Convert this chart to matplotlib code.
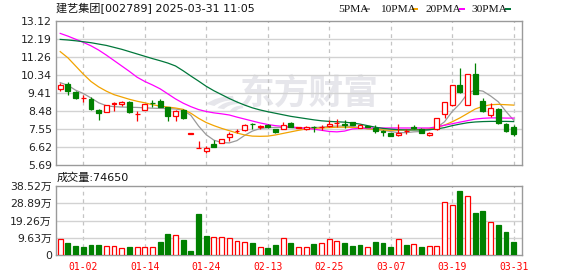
import numpy as np
import matplotlib
matplotlib.use("Agg")
import matplotlib.pyplot as plt
from matplotlib.patches import Rectangle, Wedge

# ---------------- data ----------------
dates = ["01-02", "01-14", "01-24", "02-13", "02-25", "03-07", "03-19", "03-31"]
date_idx = [3, 11, 19, 27, 35, 43, 51, 59]

opens = [9.63, 9.87, 9.46, 9.14, 9.11, 8.55, 8.41, 8.85, 8.82, 8.92,
         8.30, 8.53, 8.90, 8.97, 8.66, 8.20, 8.53, 7.31, 6.58, 6.43,
         6.78, 6.83, 7.13, 7.42, 7.52, 7.80, 7.66, 7.77, 7.56, 7.56,
         7.87, 7.62, 7.56, 7.66, 7.64, 7.68, 7.85, 7.79, 7.91, 7.60,
         7.68, 7.60, 7.42, 7.34, 7.22, 7.42, 7.63, 7.53, 7.25, 7.53,
         8.30, 8.77, 9.80, 8.80, 10.39, 8.99, 8.29, 8.56, 7.80, 7.63]
closes = [9.80, 9.49, 9.15, 9.16, 8.60, 8.36, 8.77, 8.87, 8.96, 8.41,
          8.32, 8.84, 8.87, 8.70, 8.20, 8.49, 8.12, 7.31, 6.59, 6.57,
          6.64, 7.01, 7.30, 7.45, 7.76, 7.78, 7.68, 7.63, 7.39, 7.74,
          7.67, 7.64, 7.67, 7.63, 7.66, 7.82, 7.88, 7.76, 7.77, 7.73,
          7.66, 7.43, 7.39, 7.19, 7.36, 7.44, 7.58, 7.36, 7.36, 8.11,
          8.93, 9.80, 9.46, 10.39, 9.37, 8.49, 8.61, 7.84, 7.42, 7.29]
highs = [9.92, 9.97, 9.53, 9.28, 9.18, 8.60, 8.77, 8.94, 9.01, 8.98,
         8.46, 8.84, 9.04, 9.11, 8.69, 8.54, 8.56, 7.31, 6.92, 6.65,
         7.00, 7.03, 7.41, 7.53, 7.80, 7.84, 7.77, 7.78, 7.57, 7.91,
         7.89, 7.67, 7.68, 7.70, 7.74, 7.99, 8.08, 8.01, 7.93, 7.79,
         7.72, 7.75, 7.48, 7.35, 7.80, 7.53, 7.74, 7.60, 7.39, 8.13,
         8.94, 9.82, 10.70, 10.40, 10.96, 9.17, 8.87, 8.61, 7.84, 7.77]
lows = [9.49, 9.32, 9.10, 8.94, 8.55, 8.03, 8.41, 8.49, 8.72, 8.37,
        7.98, 8.53, 8.70, 8.70, 7.98, 7.98, 8.08, 7.31, 6.58, 6.31,
        6.63, 6.80, 6.91, 7.32, 7.44, 7.53, 7.53, 7.62, 7.36, 7.55,
        7.66, 7.58, 7.48, 7.39, 7.50, 7.65, 7.67, 7.60, 7.76, 7.58,
        7.63, 7.36, 7.17, 7.17, 7.19, 7.29, 7.53, 7.32, 7.19, 7.49,
        8.11, 8.75, 9.43, 8.78, 9.33, 8.45, 8.18, 7.80, 7.39, 7.20]

ma5 = [9.94, 9.80, 9.55, 9.38, 9.15, 8.90, 8.75, 8.70, 8.68, 8.67,
       8.66, 8.64, 8.62, 8.61, 8.60, 8.58, 8.52, 8.25, 7.70, 7.25,
       6.97, 6.85, 6.83, 6.95, 7.22, 7.44, 7.57, 7.62, 7.63, 7.63,
       7.62, 7.58, 7.60, 7.62, 7.64, 7.68, 7.70, 7.70, 7.68, 7.62,
       7.56, 7.52, 7.48, 7.42, 7.36, 7.36, 7.40, 7.42, 7.50, 7.62,
       7.92, 8.45, 8.85, 9.38, 9.56, 9.50, 9.25, 8.95, 8.45, 8.00]
ma10 = [11.54, 11.22, 10.80, 10.38, 10.00, 9.72, 9.50, 9.32, 9.20, 9.08,
        8.98, 8.90, 8.80, 8.73, 8.68, 8.63, 8.56, 8.36, 8.10, 7.88,
        7.72, 7.58, 7.46, 7.34, 7.24, 7.18, 7.17, 7.18, 7.24, 7.32,
        7.40, 7.48, 7.55, 7.58, 7.60, 7.62, 7.64, 7.64, 7.63, 7.60,
        7.56, 7.53, 7.50, 7.48, 7.49, 7.50, 7.51, 7.52, 7.56, 7.63,
        7.75, 7.92, 8.12, 8.35, 8.58, 8.72, 8.80, 8.82, 8.80, 8.78]
ma20 = [12.48, 12.34, 12.18, 12.02, 11.84, 11.62, 11.36, 11.08, 10.80, 10.52,
        10.22, 10.00, 9.82, 9.62, 9.36, 9.10, 8.88, 8.70, 8.55, 8.45,
        8.38, 8.33, 8.27, 8.16, 8.06, 7.96, 7.86, 7.78, 7.72, 7.68,
        7.65, 7.62, 7.58, 7.54, 7.48, 7.42, 7.40, 7.44, 7.55, 7.58,
        7.60, 7.60, 7.60, 7.60, 7.60, 7.60, 7.60, 7.60, 7.60, 7.66,
        7.74, 7.82, 7.90, 7.98, 8.06, 8.10, 8.12, 8.12, 8.11, 8.11]
ma30 = [12.17, 12.14, 12.10, 12.05, 12.00, 11.93, 11.86, 11.76, 11.66, 11.54,
        11.42, 11.30, 11.18, 11.07, 10.95, 10.80, 10.55, 10.28, 10.02, 9.75,
        9.52, 9.32, 9.12, 8.94, 8.78, 8.64, 8.53, 8.44, 8.36, 8.28,
        8.20, 8.14, 8.08, 8.02, 7.97, 7.94, 7.92, 7.90, 7.86, 7.80,
        7.72, 7.64, 7.58, 7.54, 7.51, 7.50, 7.50, 7.50, 7.51, 7.55,
        7.62, 7.72, 7.80, 7.87, 7.91, 7.93, 7.94, 7.94, 7.94, 7.93]

volume = [9.07, 6.85, 5.19, 4.63, 5.74, 5.74, 5.19, 5.19, 4.07, 4.63,
          4.63, 4.63, 4.63, 7.41, 11.85, 11.11, 8.70, 2.30, 22.96, 10.74,
          10.00, 10.00, 9.44, 7.78, 7.22, 6.85, 4.44, 4.07, 5.74, 9.44,
          6.85, 4.44, 4.44, 6.30, 6.67, 8.89, 7.78, 6.85, 5.19, 5.74,
          4.44, 7.41, 6.85, 4.63, 8.89, 5.74, 6.11, 4.63, 5.00, 5.00,
          29.6, 27.8, 35.7, 32.8, 23.7, 24.8, 18.5, 16.9, 13.0, 7.465]
vol_up = [1, 0, 0, 0, 0, 0, 1, 1, 1, 0,
          1, 1, 1, 0, 0, 1, 0, 0, 0, 0,
          1, 1, 1, 1, 1, 0, 1, 0, 0, 1,
          0, 1, 1, 0, 1, 1, 1, 0, 0, 0,
          1, 0, 0, 0, 1, 0, 1, 0, 1, 1,
          1, 1, 0, 1, 0, 0, 1, 0, 0, 0]

price_ticks = [5.69, 6.62, 7.55, 8.48, 9.41, 10.34, 11.26, 12.19, 13.12]
price_labels = ["5.69", "6.62", "7.55", "8.48", "9.41", "10.34", "11.26", "12.19", "13.12"]
vol_ticks = [0, 9.63, 19.26, 28.89, 38.52]
vol_labels = ["0", "9.63万", "19.26万", "28.89万", "38.52万"]

title = "建艺集团[002789] 2025-03-31 11:05"
vol_title = "成交量:74650"
legend_names = ["5PMA", "10PMA", "20PMA", "30PMA"]

# ---------------- style ----------------
RED = "#ff0000"
GREEN = "#008000"
MA_COLORS = ["#9a9a9a", "#f2a300", "#ff00ff", "#00773a"]
GRID = "#d2d2d2"
FRAME = "#9a9a9a"
WM = "#e6e6eb"
FONT = ["DejaVu Sans", "Noto Sans CJK SC"]
plt.rcParams["font.family"] = FONT

W, H = 578, 276
fig = plt.figure(figsize=(W / 100, H / 100), dpi=100)
fig.patch.set_facecolor("white")

def fx(px):
    return px / W

def fy(py):
    return 1 - py / H

ax = fig.add_axes([fx(56), fy(165), (522 - 56) / W, 144 / H])
axv = fig.add_axes([fx(56), fy(255.3), (522 - 56) / W, 69.3 / H])

n = len(closes)
x = np.arange(n)
xlim = (-0.55, 60.08)
bw = 0.64

for a in (ax, axv):
    a.set_xlim(*xlim)
    for s in a.spines.values():
        s.set_color(FRAME)
        s.set_linewidth(1.0)
    a.tick_params(length=0)
    for xi in date_idx:
        a.axvline(xi, color="#c4c4c4", lw=0.9, ls=(0, (3, 3)), zorder=1)

# price panel
ax.set_ylim(price_ticks[0], price_ticks[-1])
ax.set_yticks(price_ticks)
ax.set_yticklabels(price_labels)
ax.set_xticks([])
ax.tick_params(axis="y", labelsize=7.8, pad=3, labelcolor="#222222")
for t in price_ticks[1:-1]:
    ax.axhline(t, color=GRID, lw=1.0, zorder=1)

# watermark (logo + text)
ax.text(fx(309), fy(93), "东方财富", transform=fig.transFigure, fontsize=25,
        fontweight="bold", color=WM, ha="center", va="center",
        family="Noto Sans CJK SC", zorder=0.5)
for (cx, cy, r, t1, t2, wd) in [(236, 112, 34, 95, 150, 9),
                               (240, 112, 24, 95, 160, 7),
                               (244, 112, 14, 95, 170, 6)]:
    ax.add_patch(Wedge((fx(cx), fy(cy)), r / W, t1, t2, width=wd / W,
                       transform=fig.transFigure, facecolor=WM,
                       edgecolor="none", zorder=0.5))

# moving averages
for ma, c in zip([ma5, ma10, ma20, ma30], MA_COLORS):
    ax.plot(x, ma, color=c, lw=0.9, zorder=2)

# candles
for i in range(n):
    o, c, h, l = opens[i], closes[i], highs[i], lows[i]
    up = c >= o
    lo_b, hi_b = min(o, c), max(o, c)
    hgt = max(hi_b - lo_b, 0.012)
    col = RED if up else GREEN
    ax.vlines(i, l, lo_b, color=col, lw=0.9, zorder=3)
    ax.vlines(i, lo_b + hgt, h, color=col, lw=0.9, zorder=3)
    ax.add_patch(Rectangle((i - bw / 2, lo_b), bw, hgt,
                           facecolor="white" if up else GREEN,
                           edgecolor=col, lw=0.9, zorder=4))

# volume panel
axv.set_ylim(0, vol_ticks[-1])
axv.set_yticks(vol_ticks)
axv.set_yticklabels(vol_labels)
axv.tick_params(axis="y", labelsize=7.8, pad=3, labelcolor="#222222")
for t in vol_ticks[1:-1]:
    axv.axhline(t, color=GRID, lw=1.0, zorder=1)
for i in range(n):
    up = vol_up[i] == 1
    axv.add_patch(Rectangle((i - bw / 2, 0), bw, volume[i],
                            facecolor="white" if up else GREEN,
                            edgecolor=RED if up else GREEN, lw=0.9, zorder=3))
axv.set_xticks(date_idx)
axv.set_xticklabels(dates, family="DejaVu Sans Mono", fontsize=7, color=RED)
axv.tick_params(axis="x", pad=5)

# texts
fig.text(fx(56), fy(9), title, fontsize=8, va="center", ha="left", color="#111111")
fig.text(fx(57), fy(178), vol_title, fontsize=8, va="center", ha="left", color="#111111")

leg_text_x = [338, 379.7, 425.3, 471.3]
leg_dash_x = [364.5, 412, 459, 504.7]
for name, c, tx, dx in zip(legend_names, MA_COLORS, leg_text_x, leg_dash_x):
    fig.text(fx(tx), fy(9), name, fontsize=8.2, family="Liberation Serif",
             va="center", ha="left", color="#111111")
    fig.patches.append(Rectangle((fx(dx), fy(10.3)), 6 / W, 2.8 / H,
                                 transform=fig.transFigure, facecolor=c,
                                 edgecolor="none"))

fig.savefig("out.png", dpi=100, facecolor="white")
